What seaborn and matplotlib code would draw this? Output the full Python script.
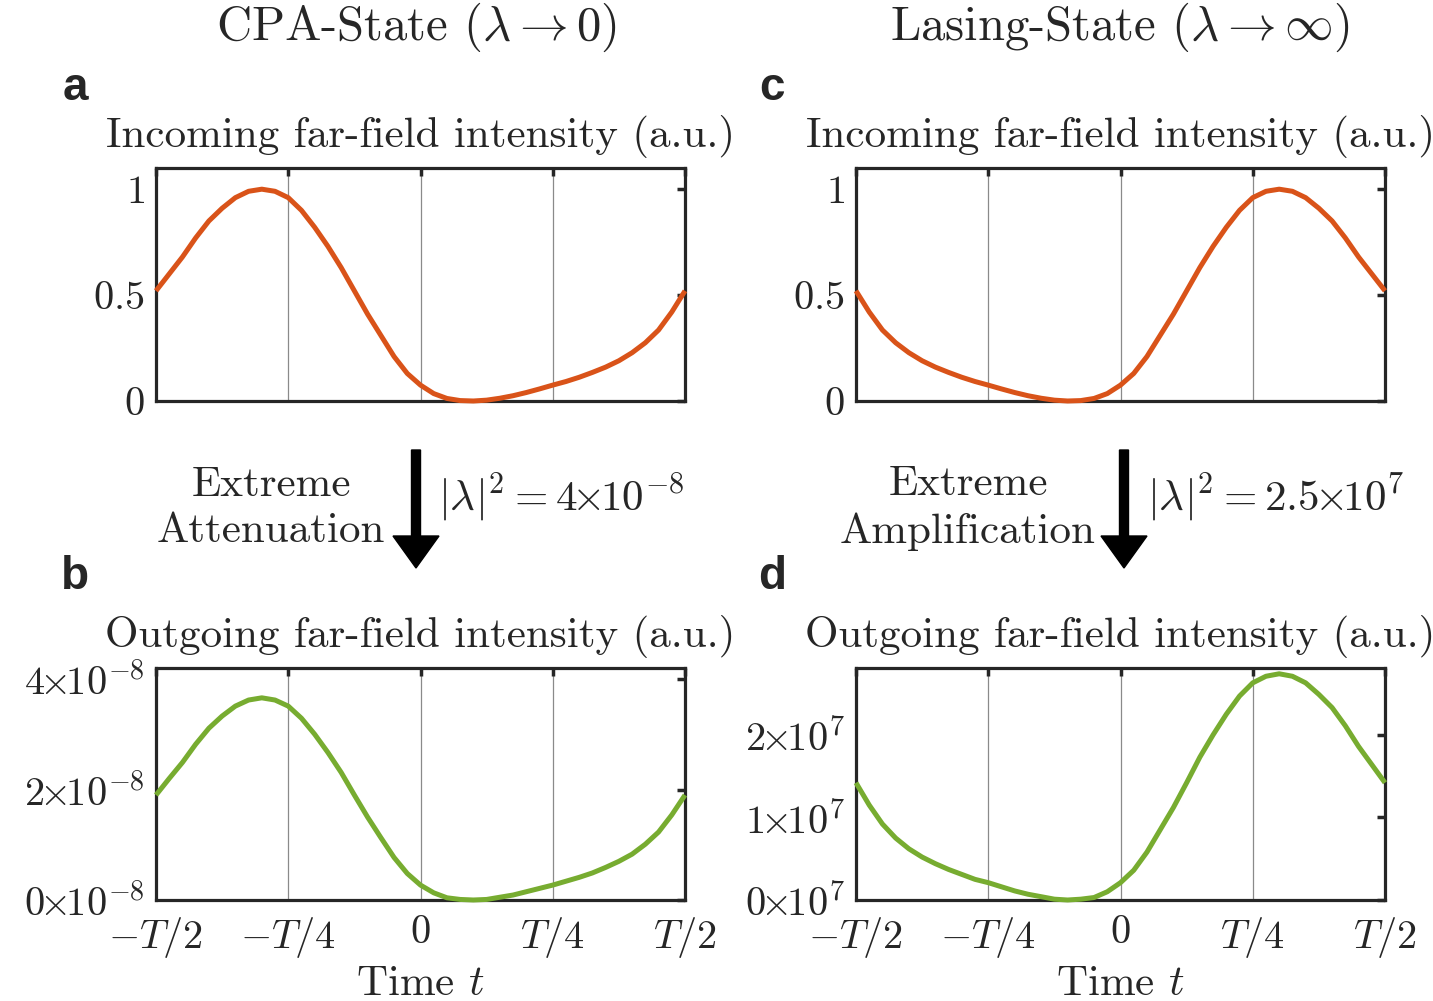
import numpy as np
import pandas as pd
import matplotlib
matplotlib.use("Agg")
import matplotlib.pyplot as plt
import seaborn as sns
from matplotlib.patches import FancyArrow

# ---------------- data (time in units of the period T) ----------------
t_over_T = [-0.500, -0.475, -0.450, -0.425, -0.400, -0.375, -0.350, -0.325, -0.300, -0.275,
            -0.250, -0.225, -0.200, -0.175, -0.150, -0.125, -0.100, -0.075, -0.050, -0.025,
            0.000, 0.025, 0.050, 0.075, 0.100, 0.125, 0.150, 0.175, 0.200, 0.225,
            0.250, 0.275, 0.300, 0.325, 0.350, 0.375, 0.400, 0.425, 0.450, 0.475, 0.500]

incoming_cpa = [0.52, 0.60, 0.68, 0.77, 0.85, 0.91, 0.96, 0.99, 1.00, 0.99,
                0.96, 0.90, 0.82, 0.73, 0.63, 0.52, 0.41, 0.31, 0.21, 0.13,
                0.075, 0.035, 0.012, 0.002, 0.000, 0.004, 0.013, 0.025, 0.040, 0.057,
                0.075, 0.092, 0.112, 0.135, 0.160, 0.190, 0.228, 0.275, 0.335, 0.42, 0.52]

# outgoing CPA intensity, in units of 1e-8
outgoing_cpa_e8 = [1.90, 2.20, 2.49, 2.82, 3.11, 3.33, 3.51, 3.62, 3.66, 3.62,
                   3.51, 3.29, 3.00, 2.67, 2.31, 1.90, 1.50, 1.13, 0.77, 0.48,
                   0.27, 0.13, 0.04, 0.01, 0.00, 0.01, 0.05, 0.09, 0.15, 0.21,
                   0.27, 0.34, 0.41, 0.49, 0.59, 0.70, 0.83, 1.01, 1.23, 1.54, 1.90]

incoming_lasing = [0.52, 0.42, 0.335, 0.275, 0.228, 0.190, 0.160, 0.135, 0.112, 0.092,
                   0.075, 0.057, 0.040, 0.025, 0.013, 0.004, 0.000, 0.002, 0.012, 0.035,
                   0.075, 0.13, 0.21, 0.31, 0.41, 0.52, 0.63, 0.73, 0.82, 0.90,
                   0.96, 0.99, 1.00, 0.99, 0.96, 0.91, 0.85, 0.77, 0.68, 0.60, 0.52]

# outgoing lasing intensity, in units of 1e7
outgoing_lasing_e7 = [1.42, 1.15, 0.92, 0.75, 0.62, 0.52, 0.44, 0.37, 0.31, 0.25,
                      0.21, 0.16, 0.11, 0.07, 0.04, 0.01, 0.00, 0.01, 0.03, 0.10,
                      0.21, 0.36, 0.58, 0.85, 1.12, 1.42, 1.73, 2.00, 2.25, 2.47,
                      2.63, 2.71, 2.74, 2.71, 2.63, 2.49, 2.33, 2.11, 1.86, 1.64, 1.42]

x_ticks = [-0.5, -0.25, 0.0, 0.25, 0.5]
x_tick_labels = [r"$-T/2$", r"$-T/4$", r"$0$", r"$T/4$", r"$T/2$"]

yticks_in = [0, 0.5, 1]
yticks_in_labels = [r"$0$", r"$0.5$", r"$1$"]
yticks_cpa = [0, 2, 4]
yticks_cpa_labels = [r"$0\!\!\times\!\!10^{-8}$", r"$2\!\!\times\!\!10^{-8}$", r"$4\!\!\times\!\!10^{-8}$"]
yticks_las = [0, 1, 2]
yticks_las_labels = [r"$0\!\!\times\!\!10^{7}$", r"$1\!\!\times\!\!10^{7}$", r"$2\!\!\times\!\!10^{7}$"]

# ---------------- style ----------------
sns.set_style("white")
plt.rcParams["font.family"] = ["cmr10", "DejaVu Serif"]
plt.rcParams["mathtext.fontset"] = "cm"
plt.rcParams["axes.formatter.use_mathtext"] = True

ORANGE = "#D95319"
GREEN = "#77AC30"
DARK = "#262626"
TICK_FS = 29
TITLE_FS = 31
HEAD_FS = 35
LETTER_FS = 33

W, H = 1433, 1001
fig = plt.figure(figsize=(W / 100, H / 100), dpi=100)


def px_axes(l, t, r, b):
    return fig.add_axes([l / W, 1 - b / H, (r - l) / W, (b - t) / H])


def style_axes(ax, ylim, yt, ytl, show_x):
    ax.set_xlim(-0.5, 0.5)
    ax.set_ylim(*ylim)
    ax.set_xticks(x_ticks)
    ax.set_yticks(yt)
    ax.set_yticklabels(ytl)
    if show_x:
        ax.set_xticklabels(x_tick_labels)
    else:
        ax.set_xticklabels([])
    ax.grid(axis="x", color="#8a8a8a", lw=0.9)
    ax.grid(axis="y", visible=False)
    ax.tick_params(direction="in", length=6, width=2.5, color=DARK,
                   top=True, right=True, labelsize=TICK_FS)
    ax.tick_params(axis="y", pad=8)
    ax.tick_params(axis="x", pad=11)
    for s in ax.spines.values():
        s.set_visible(True)
        s.set_color(DARK)
        s.set_linewidth(2.3)
    ax.set_xlabel("")
    ax.set_ylabel("")


panels = [
    (156, 168, 685, 401, incoming_cpa, ORANGE, (0, 1.1), yticks_in, yticks_in_labels, False,
     "Incoming far-field intensity (a.u.)"),
    (156, 668, 685, 900, outgoing_cpa_e8, GREEN, (0, 4.2), yticks_cpa, yticks_cpa_labels, True,
     "Outgoing far-field intensity (a.u.)"),
    (856, 168, 1385, 401, incoming_lasing, ORANGE, (0, 1.1), yticks_in, yticks_in_labels, False,
     "Incoming far-field intensity (a.u.)"),
    (856, 668, 1385, 900, outgoing_lasing_e7, GREEN, (0, 2.81), yticks_las, yticks_las_labels, True,
     "Outgoing far-field intensity (a.u.)"),
]

for (l, t, r, b, y, col, ylim, yt, ytl, show_x, title) in panels:
    ax = px_axes(l, t, r, b)
    df = pd.DataFrame({"t": t_over_T, "I": y})
    sns.lineplot(data=df, x="t", y="I", color=col, lw=3.6, ax=ax, clip_on=False, zorder=3,
                 solid_joinstyle="round", solid_capstyle="butt")
    style_axes(ax, ylim, yt, ytl, show_x)
    ax.set_title(title, fontsize=TITLE_FS, pad=15)
    if show_x:
        ax.set_xlabel(r"Time $t$", fontsize=TITLE_FS, labelpad=4)

# column headings
fig.text(416 / W, 1 - 27 / H, r"CPA-State ($\lambda \rightarrow 0$)", fontsize=HEAD_FS,
         ha="center", va="center")
fig.text(1120 / W, 1 - 27 / H, r"Lasing-State ($\lambda \rightarrow \infty$)", fontsize=HEAD_FS,
         ha="center", va="center")

# panel letters
for letter, x, y in [("a", 75, 88), ("b", 75, 577), ("c", 772, 88), ("d", 772, 577)]:
    fig.text(x / W, 1 - y / H, letter, fontsize=LETTER_FS, fontweight="bold",
             family="Liberation Sans", ha="center", va="center")

# arrows
for xa in (416, 1124):
    arr = FancyArrow(xa / 100, (H - 450) / 100, 0, -(568 - 450) / 100,
                     width=0.09, head_width=0.46, head_length=0.32,
                     length_includes_head=True, color="black",
                     transform=fig.dpi_scale_trans)
    fig.add_artist(arr)

fig.text(271 / W, 1 - 508 / H, "Extreme\nAttenuation", fontsize=TITLE_FS,
         ha="center", va="center", linespacing=1.3)
fig.text(438 / W, 1 - 498 / H, r"$|\lambda|^2 = 4\!\!\times\!\!10^{-8}$", fontsize=TITLE_FS,
         ha="left", va="center")
fig.text(968 / W, 1 - 508 / H, "Extreme\nAmplification", fontsize=TITLE_FS,
         ha="center", va="center", linespacing=1.3)
fig.text(1147 / W, 1 - 498 / H, r"$|\lambda|^2 = 2.5\!\!\times\!\!10^{7}$", fontsize=TITLE_FS,
         ha="left", va="center")

fig.savefig("out.png", dpi=100)
